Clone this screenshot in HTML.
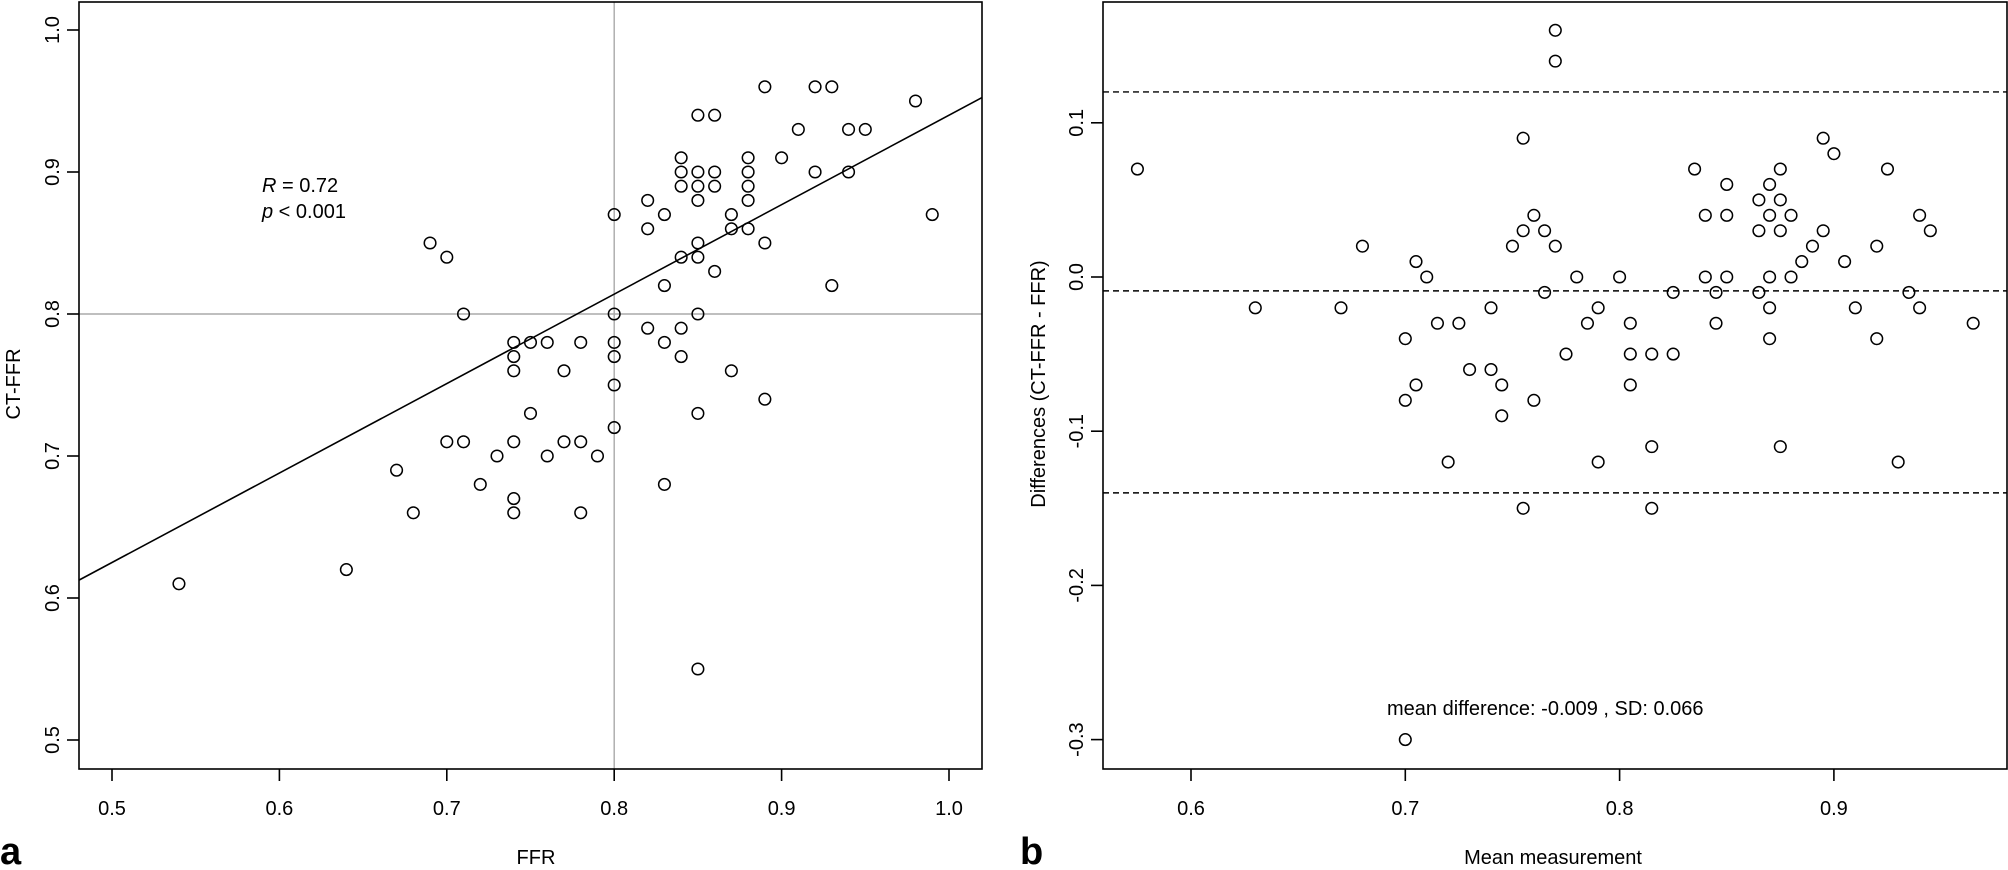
<!DOCTYPE html>
<html><head><meta charset="utf-8"><style>
body{margin:0;background:#fff;width:2008px;height:865px;overflow:hidden}
text{font-family:"Liberation Sans",sans-serif;fill:#000}
</style></head><body>
<svg id="s" width="2008" height="865">
<g id="left"></g>
<g id="right"></g>
</svg>
<script>
const ffr=[0.54,0.64,0.67,0.68,0.69,0.70,0.70,0.71,0.71,0.72,0.73,0.74,0.74,0.74,0.74,0.74,0.74,0.75,0.75,0.76,0.76,0.77,0.77,0.78,0.78,0.78,0.79,0.80,0.80,0.80,0.80,0.80,0.80,0.82,0.82,0.82,0.83,0.83,0.83,0.83,0.84,0.84,0.84,0.84,0.84,0.84,0.85,0.85,0.85,0.85,0.85,0.85,0.85,0.85,0.85,0.86,0.86,0.86,0.86,0.87,0.87,0.87,0.88,0.88,0.88,0.88,0.88,0.89,0.89,0.89,0.90,0.91,0.92,0.92,0.93,0.93,0.94,0.94,0.95,0.98,0.99];
const ctffr=[0.61,0.62,0.69,0.66,0.85,0.84,0.71,0.80,0.71,0.68,0.70,0.78,0.77,0.76,0.71,0.67,0.66,0.78,0.73,0.78,0.70,0.76,0.71,0.78,0.71,0.66,0.70,0.87,0.80,0.78,0.77,0.75,0.72,0.88,0.86,0.79,0.87,0.82,0.78,0.68,0.91,0.90,0.89,0.84,0.79,0.77,0.94,0.90,0.89,0.88,0.85,0.84,0.80,0.73,0.55,0.94,0.90,0.89,0.83,0.87,0.86,0.76,0.91,0.90,0.89,0.88,0.86,0.96,0.85,0.74,0.91,0.93,0.96,0.90,0.96,0.82,0.93,0.90,0.93,0.95,0.87];
const regIntercept=0.31, regSlope=0.63;
const leftXTicks=[0.5,0.6,0.7,0.8,0.9,1.0];
const leftYTicks=[0.5,0.6,0.7,0.8,0.9,1.0];
const meanM=[0.575,0.63,0.67,0.68,0.70,0.70,0.70,0.705,0.705,0.71,0.715,0.72,0.725,0.73,0.74,0.74,0.745,0.745,0.75,0.755,0.755,0.755,0.76,0.76,0.765,0.765,0.77,0.77,0.77,0.775,0.78,0.785,0.79,0.79,0.80,0.805,0.805,0.805,0.815,0.815,0.815,0.825,0.825,0.835,0.84,0.84,0.845,0.845,0.85,0.85,0.85,0.865,0.865,0.865,0.87,0.87,0.87,0.87,0.87,0.875,0.875,0.875,0.875,0.88,0.88,0.885,0.89,0.895,0.895,0.90,0.905,0.91,0.92,0.92,0.925,0.93,0.935,0.94,0.94,0.945,0.965];
const diffs=[0.07,-0.02,-0.02,0.02,-0.04,-0.08,-0.30,0.01,-0.07,0.00,-0.03,-0.12,-0.03,-0.06,-0.02,-0.06,-0.07,-0.09,0.02,0.03,0.09,-0.15,0.04,-0.08,0.03,-0.01,0.16,0.14,0.02,-0.05,0.00,-0.03,-0.02,-0.12,0.00,-0.03,-0.05,-0.07,-0.05,-0.11,-0.15,-0.01,-0.05,0.07,0.04,0.00,-0.01,-0.03,0.06,0.04,0.00,0.05,0.03,-0.01,0.06,0.04,0.00,-0.02,-0.04,0.07,0.05,0.03,-0.11,0.04,0.00,0.01,0.02,0.09,0.03,0.08,0.01,-0.02,0.02,-0.04,0.07,-0.12,-0.01,0.04,-0.02,0.03,-0.03];
const hLines=[0.12,-0.009,-0.14];
const rightXTicks=[0.6,0.7,0.8,0.9];
const rightYTicks=[-0.3,-0.2,-0.1,0.0,0.1];
const NS="http://www.w3.org/2000/svg";
function mk(parent,tag,attrs,name,txt){const e=document.createElementNS(NS,tag);for(const k in attrs)e.setAttribute(k,attrs[k]);


if(txt!==undefined)e.textContent=txt;parent.appendChild(e);return e;}
function panel(g,box,xs,ys,xt,yt,yfmt){
 mk(g,'rect',{x:box.l,y:box.t,width:box.r-box.l,height:box.b-box.t,fill:'none',stroke:'#000','stroke-width':1.6},'plot-frame');
 xt.forEach(v=>{const x=xs(v);mk(g,'line',{x1:x,x2:x,y1:box.b,y2:box.b+12,stroke:'#000','stroke-width':1.6},'x-tick');
  mk(g,'text',{x:x,y:box.b+46,'font-size':20,'text-anchor':'middle'},'x-tick-label',v.toFixed(1));});
 yt.forEach(v=>{const y=ys(v);mk(g,'line',{x1:box.l-12,x2:box.l,y1:y,y2:y,stroke:'#000','stroke-width':1.6},'y-tick');
  mk(g,'text',{x:box.l-20,y:y,'font-size':20,'text-anchor':'middle',transform:`rotate(-90 ${box.l-20} ${y})`},'y-tick-label',yfmt(v));});
}
// left
const L={l:79,r:982,t:2,b:769};
const lx=v=>112+(v-0.5)*1674, ly=v=>30-(v-1.0)*1420;
const gl=document.getElementById('left');
mk(gl,'line',{x1:lx(0.8),x2:lx(0.8),y1:L.t,y2:L.b,stroke:'#aaa','stroke-width':1.4},'ffr-cutoff-line');
mk(gl,'line',{x1:L.l,x2:L.r,y1:ly(0.8),y2:ly(0.8),stroke:'#aaa','stroke-width':1.4},'ctffr-cutoff-line');
panel(gl,L,lx,ly,leftXTicks,leftYTicks,v=>v.toFixed(1));
const x0=(L.l-112)/1674+0.5,x1=(L.r-112)/1674+0.5;
mk(gl,'line',{x1:lx(x0),y1:ly(regIntercept+regSlope*x0),x2:lx(x1),y2:ly(regIntercept+regSlope*x1),stroke:'#000','stroke-width':1.6},'regression-line');
ffr.forEach((v,i)=>mk(gl,'circle',{cx:lx(v),cy:ly(ctffr[i]),r:5.8,fill:'none',stroke:'#000','stroke-width':1.5},'data-point'));
const t1=mk(gl,'text',{x:262,y:192,'font-size':20},'r-value');t1.innerHTML='<tspan font-style="italic">R</tspan>  = 0.72';
const t2=mk(gl,'text',{x:262,y:218,'font-size':20},'p-value');t2.innerHTML='<tspan font-style="italic">p</tspan> &lt; 0.001';
mk(gl,'text',{x:536,y:864,'font-size':20,'text-anchor':'middle'},'x-axis-title','FFR');
mk(gl,'text',{x:20,y:384,'font-size':20,'text-anchor':'middle',transform:'rotate(-90 20 384)'},'y-axis-title','CT-FFR');
mk(gl,'text',{x:0,y:864,'font-size':38,'font-weight':'bold'},'panel-label-a','a');
// right
const R={l:1103,r:2007,t:2,b:769};
const rx=v=>1191+(v-0.6)*2143, ry=v=>277-v*1542;
const gr=document.getElementById('right');
panel(gr,R,rx,ry,rightXTicks,rightYTicks,v=>v===0?'0.0':v.toFixed(1));
hLines.forEach(v=>mk(gr,'line',{x1:R.l,x2:R.r,y1:ry(v),y2:ry(v),stroke:'#000','stroke-width':1.4,'stroke-dasharray':'6,4'},'limit-line'));
meanM.forEach((v,i)=>mk(gr,'circle',{cx:rx(v),cy:ry(diffs[i]),r:5.8,fill:'none',stroke:'#000','stroke-width':1.5},'data-point'));
mk(gr,'text',{x:1387,y:715,'font-size':20},'mean-difference-label','mean difference: -0.009 , SD: 0.066');
mk(gr,'text',{x:1553,y:864,'font-size':20,'text-anchor':'middle'},'x-axis-title','Mean measurement');
mk(gr,'text',{x:1045,y:384,'font-size':20,'text-anchor':'middle',transform:'rotate(-90 1045 384)'},'y-axis-title','Differences (CT-FFR - FFR)');
mk(gr,'text',{x:1020,y:864,'font-size':38,'font-weight':'bold'},'panel-label-b','b');
</script>
</body></html>
